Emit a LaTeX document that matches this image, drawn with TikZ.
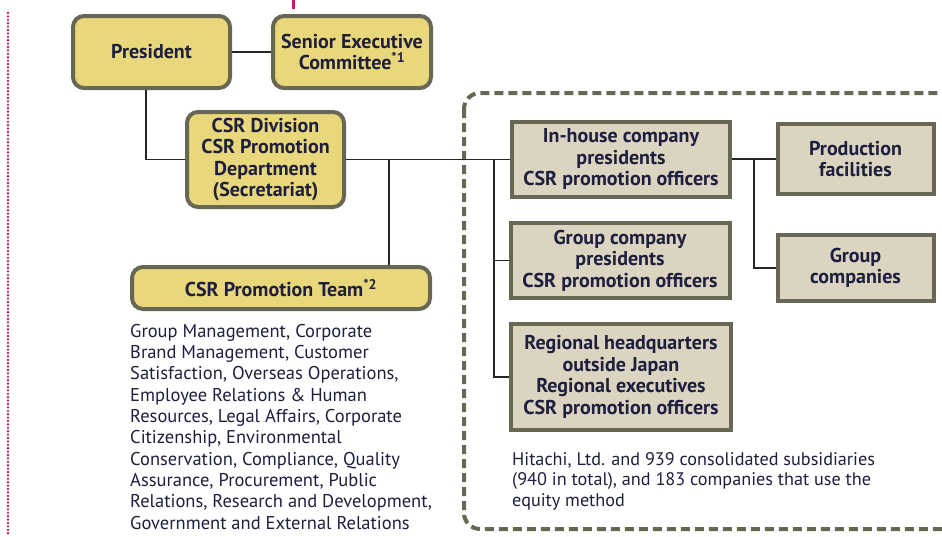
\documentclass[tikz,border=0pt]{standalone}
\usepackage{fontspec}
\setmainfont{PT Sans}
\usetikzlibrary{positioning}
\definecolor{boxyellow}{RGB}{233,215,124}
\definecolor{boxbeige}{RGB}{218,212,192}
\definecolor{boxrim}{RGB}{103,103,84}
\definecolor{inkblue}{RGB}{30,30,62}
\definecolor{dotpink}{RGB}{196,24,104}
\tikzset{
  yellowbox/.style={rectangle,rounded corners=11pt,draw=boxrim,fill=boxyellow,line width=4pt,
    align=center,inner sep=0pt,text=inkblue,font=\fontsize{20}{21.5}\selectfont\bfseries},
  greybox/.style={rectangle,draw=boxrim,fill=boxbeige,line width=4pt,
    align=center,inner sep=0pt,text=inkblue,font=\fontsize{20}{21.5}\selectfont\bfseries},
  link/.style={draw=black!85,line width=1.4pt},
  notetext/.style={align=left,inner sep=0pt,text=inkblue,font=\fontsize{18.5}{21.3}\selectfont}
}

\begin{document}
\begin{tikzpicture}[x=1pt,y=-1pt]
  \clip (0,0) rectangle (942,536);
  % page marks
  \draw[dotpink,line width=2.6pt,line cap=round,dash pattern=on 0pt off 3.4pt] (8,13) -- (8,536);
  \draw[dotpink,line width=3pt] (293,0) -- (293,9);
  % group frame
  \draw[boxrim,line width=4pt,dash pattern=on 9pt off 5pt,rounded corners=16pt] (464,93) rectangle (990,529);

  \node[yellowbox,minimum width=157pt,minimum height=72pt] (pres) at (151.5,52) {President};
  \node[yellowbox,minimum width=158pt,minimum height=72pt] (sec) at (352,52)
    {Senior Executive\\Committee\textsuperscript{*1}};
  \node[yellowbox,minimum width=157pt,minimum height=95pt] (csrdiv) at (265.5,159.5)
    {CSR Division\\CSR Promotion\\Department\\(Secretariat)};
  \node[yellowbox,minimum width=298pt,minimum height=42pt] (team) at (281,288)
    {CSR Promotion Team\textsuperscript{*2}};

  \node[greybox,minimum width=218pt,minimum height=75pt] (inhouse) at (621,159)
    {In-house company\\presidents\\CSR promotion officers};
  \node[greybox,minimum width=219pt,minimum height=75pt] (grpco) at (620,260.5)
    {Group company\\presidents\\CSR promotion officers};
  \node[greybox,minimum width=220pt,minimum height=106pt] (regional) at (621,377)
    {Regional headquarters\\outside Japan\\Regional executives\\CSR promotion officers};
  \node[greybox,minimum width=156pt,minimum height=70pt] (prod) at (855.5,159)
    {Production\\facilities};
  \node[greybox,minimum width=156pt,minimum height=66pt] (grpcos) at (855.5,268)
    {Group\\companies};

  \node[notetext,anchor=north west] (teamnote) at (130,324)
    {Group Management, Corporate\\Brand Management, Customer\\Satisfaction, Overseas Operations,\\
     Employee Relations \& Human\\Resources, Legal Affairs, Corporate\\Citizenship, Environmental\\
     Conservation, Compliance, Quality\\Assurance, Procurement, Public\\
     Relations, Research and Development,\\Government and External Relations};
  \node[notetext,anchor=north west,font=\fontsize{18.2}{20.5}\selectfont] (scope) at (512,452)
    {Hitachi, Ltd. and 939 consolidated subsidiaries\\(940 in total), and 183 companies that use the\\equity method};

  % connectors
  \coordinate (teamjoin) at ([xshift=108pt]team.north);
  \coordinate (branch) at (494,159);
  \coordinate (fork) at (754,159);
  \draw[link] (pres) -- (sec);
  \draw[link] ([xshift=-5.5pt]pres.south) |- (csrdiv.west);
  \draw[link] (csrdiv.east) -- (csrdiv.east -| inhouse.west);
  \draw[link] (teamjoin) -- (teamjoin |- csrdiv.east);
  \draw[link] (branch) |- (regional.west);
  \draw[link] (branch |- grpco.west) -- (grpco.west);
  \draw[link] (inhouse.east) -- (prod.west);
  \draw[link] (fork) |- (grpcos.west);
\end{tikzpicture}
\end{document}
